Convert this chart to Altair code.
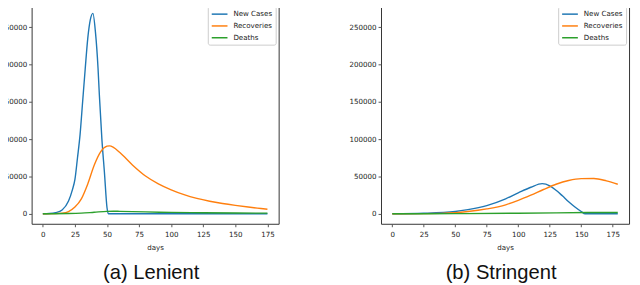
import altair as alt
import pandas as pd

series_order = ["New Cases", "Recoveries", "Deaths"]
colors = ["#1f77b4", "#ff7f0e", "#2ca02c"]
x_ticks = [0, 25, 50, 75, 100, 125, 150, 175]
y_ticks = [0, 50000, 100000, 150000, 200000, 250000]

# ---- (a) Lenient ----
a_new_days = [0, 5, 10, 15, 20, 23, 25, 27, 29, 31, 33, 35, 37, 39, 41, 43, 44, 46, 48, 50, 51, 60, 100, 140, 175]
a_new_vals = [0, 300, 1500, 5000, 17000, 32000, 46000, 75000, 106000, 150000, 194000, 235000, 260000, 268500,
              243000, 195000, 160000, 100000, 55000, 8000, 0, 0, 0, 0, 0]
a_rec_days = [0, 10, 15, 20, 25, 30, 35, 40, 45, 50, 52, 55, 60, 70, 80, 90, 100, 110, 120, 130, 140, 150, 160, 170, 175]
a_rec_vals = [0, 200, 800, 3000, 9000, 20000, 40000, 65000, 83000, 90500, 91000, 89000, 82000, 65000, 50500,
              40000, 32000, 25500, 20500, 16700, 13700, 11200, 9000, 7000, 6000]
a_dea_days = [0, 20, 30, 40, 50, 55, 60, 80, 100, 125, 150, 175]
a_dea_vals = [0, 300, 800, 2000, 3200, 3400, 3200, 2500, 1800, 1300, 1000, 800]

# ---- (b) Stringent ----
b_new_days = [0, 25, 50, 60, 75, 90, 100, 110, 119, 125, 130, 135, 140, 145, 150, 153, 165, 179]
b_new_vals = [0, 700, 3000, 5500, 11000, 20000, 28000, 35500, 40300, 37500, 31500, 24000, 16000, 9000, 3000, 0, 0, 0]
b_rec_days = [0, 25, 50, 60, 75, 90, 100, 110, 120, 130, 140, 150, 160, 170, 179]
b_rec_vals = [0, 200, 1500, 3000, 6500, 12000, 18000, 25000, 32500, 39500, 44500, 47000, 47200, 44000, 39500]
b_dea_days = [0, 50, 100, 130, 155, 179]
b_dea_vals = [0, 200, 700, 1200, 1600, 1600]


def frame(days_vals):
    rows = []
    for name, days, vals in days_vals:
        for d, v in zip(days, vals):
            rows.append({"series": name, "day": d, "value": v})
    return pd.DataFrame(rows)


df_a = frame([("New Cases", a_new_days, a_new_vals),
              ("Recoveries", a_rec_days, a_rec_vals),
              ("Deaths", a_dea_days, a_dea_vals)])
df_b = frame([("New Cases", b_new_days, b_new_vals),
              ("Recoveries", b_rec_days, b_rec_vals),
              ("Deaths", b_dea_days, b_dea_vals)])

FONT = "DejaVu Sans"
FS = 7.2


def panel(df, xdom, caption, w):
    legend = alt.Legend(
        title=None, orient="top-right", offset=3, fillColor="white",
        strokeColor="#cccccc", padding=3, cornerRadius=2,
        symbolType="M-1,0H3", symbolSize=64, symbolStrokeWidth=1.5,
        labelFontSize=FS, labelFont=FONT, labelColor="#222222",
        labelOffset=13, rowPadding=3,
    )
    return alt.Chart(df).mark_line(strokeWidth=1.4, interpolate="monotone").encode(
        x=alt.X("day:Q", scale=alt.Scale(domain=xdom, nice=False, zero=False),
                axis=alt.Axis(values=x_ticks, title="days", grid=False, domain=False,
                              tickSize=3, tickColor="#555555", labelPadding=3.5,
                              labelFontSize=FS, labelFont=FONT, labelColor="#222222",
                              titleFontSize=FS, titleFont=FONT, titleFontWeight="normal",
                              titleColor="#222222", titlePadding=6)),
        y=alt.Y("value:Q", scale=alt.Scale(domain=[-13425, 281925], nice=False, zero=False),
                axis=alt.Axis(values=y_ticks, title=None, grid=False, domain=False,
                              tickSize=3, tickColor="#555555", labelPadding=2,
                              labelFontSize=FS, labelFont=FONT, labelColor="#222222",
                              format="d")),
        color=alt.Color("series:N", scale=alt.Scale(domain=series_order, range=colors),
                        sort=series_order, legend=legend),
        order=alt.Order("day:Q"),
    ).properties(
        width=w, height=224,
        title=alt.TitleParams(caption, orient="bottom", anchor="middle", frame="group",
                              font="Liberation Sans", fontSize=20.5, fontWeight="normal",
                              color="#111111", offset=13.5, dx=-4),
    )


chart = alt.hconcat(
    panel(df_a, [-8.75, 183.75], "(a) Lenient", 251),
    panel(df_b, [-8.95, 187.95], "(b) Stringent", 252),
    spacing=104,
).resolve_scale(
    color="independent", x="independent", y="independent"
).resolve_legend(
    color="independent"
).properties(
    padding={"left": -9, "top": -8, "right": 2, "bottom": 0},
    bounds="flush",
).configure_view(
    stroke="#333333", strokeWidth=1
)

chart.save("out.html", embed_options={"renderer": "svg", "actions": False})
